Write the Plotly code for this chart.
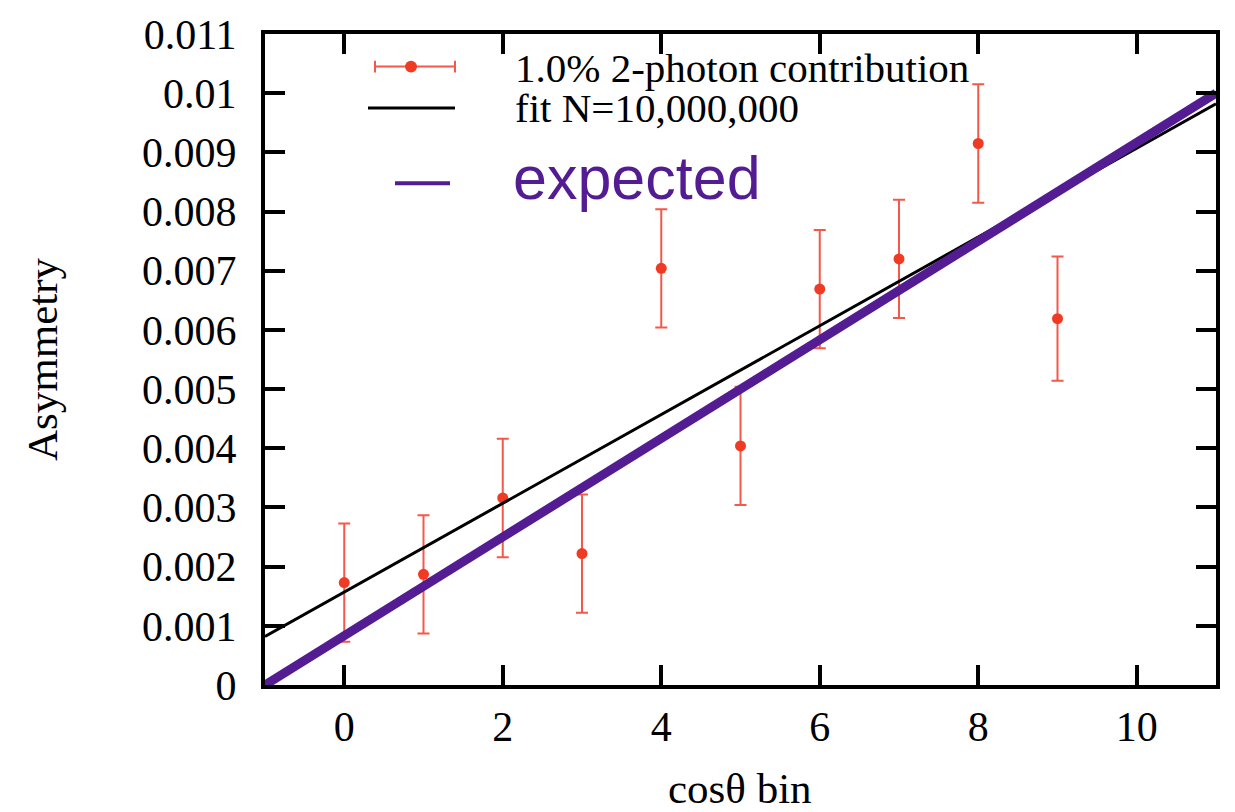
import plotly.graph_objects as go

# ---- data ----
bins = [0, 1, 2, 3, 4, 5, 6, 7, 8, 9]
asym = [0.00173, 0.00187, 0.00316, 0.00222, 0.00704, 0.00404, 0.00669, 0.00720, 0.00915, 0.00619]
asym_err = [0.0010, 0.0010, 0.0010, 0.0010, 0.0010, 0.0010, 0.0010, 0.0010, 0.0010, 0.00105]
fit_x = [-1, 11]
fit_y = [0.00082, 0.00982]
exp_x = [-1, 11]
exp_y = [0.0, 0.0100]
xtick_vals = [0, 2, 4, 6, 8, 10]
ytick_vals = [0, 0.001, 0.002, 0.003, 0.004, 0.005, 0.006, 0.007, 0.008, 0.009, 0.01, 0.011]
ytick_text = ["0", "0.001", "0.002", "0.003", "0.004", "0.005", "0.006", "0.007", "0.008", "0.009", "0.01", "0.011"]
legend_labels = ["1.0% 2-photon contribution", "fit N=10,000,000", "expected"]

RED = "#ef3b24"
RED_ERR = "#f4584a"
PURPLE = "#541c93"
SERIF = "Liberation Serif, Times New Roman, serif"

W, H = 1235, 812
L, R, T, B = 265, 19, 26, 127

def px(x):
    return (x - L) / (W - L - R)

def py(y):
    return 1 - (y - T) / (H - T - B)

fig = go.Figure()
fig.add_trace(go.Scatter(
    x=bins, y=asym, mode="markers",
    marker=dict(color=RED, size=11),
    error_y=dict(type="data", array=asym_err, color=RED_ERR, thickness=2, width=6),
    showlegend=False, cliponaxis=False))
fig.add_trace(go.Scatter(x=fit_x, y=fit_y, mode="lines",
                         line=dict(color="black", width=3), showlegend=False))
fig.add_trace(go.Scatter(x=exp_x, y=exp_y, mode="lines",
                         line=dict(color=PURPLE, width=9), showlegend=False, cliponaxis=False))

shapes = []
# legend samples (drawn in paper coordinates)
shapes.append(dict(type="line", xref="paper", yref="paper", x0=px(375), x1=px(455), y0=py(59), y1=py(59),
                   line=dict(color=RED_ERR, width=2)))
for xx in (375, 455):
    shapes.append(dict(type="line", xref="paper", yref="paper", x0=px(xx), x1=px(xx), y0=py(53), y1=py(65),
                       line=dict(color=RED_ERR, width=2)))
shapes.append(dict(type="circle", xref="paper", yref="paper", x0=px(405), x1=px(417), y0=py(53), y1=py(65),
                   line=dict(color=RED, width=0), fillcolor=RED))
shapes.append(dict(type="line", xref="paper", yref="paper", x0=px(368), x1=px(455), y0=py(101), y1=py(101),
                   line=dict(color="black", width=3)))
shapes.append(dict(type="line", xref="paper", yref="paper", x0=px(395), x1=px(450), y0=py(177), y1=py(177),
                   line=dict(color=PURPLE, width=4)))

annotations = [
    dict(text=legend_labels[0], xref="paper", yref="paper", x=px(513), y=py(60), xanchor="left", yanchor="middle",
         showarrow=False, font=dict(family=SERIF, size=41, color="black")),
    dict(text=legend_labels[1], xref="paper", yref="paper", x=px(513), y=py(101), xanchor="left", yanchor="middle",
         showarrow=False, font=dict(family=SERIF, size=41, color="black")),
    dict(text=legend_labels[2], xref="paper", yref="paper", x=px(511), y=py(172), xanchor="left", yanchor="middle",
         showarrow=False, font=dict(family="Liberation Sans, Arial, sans-serif", size=61, color=PURPLE)),
    dict(text="Asymmetry", xref="paper", yref="paper", x=px(42), y=py(355), textangle=-90,
         xanchor="center", yanchor="middle", showarrow=False, font=dict(family=SERIF, size=43, color="black")),
    dict(text="cosθ bin", xref="paper", yref="paper", x=px(740), y=py(790), xanchor="center", yanchor="middle",
         showarrow=False, font=dict(family=SERIF, size=43, color="black")),
]

axis_common = dict(showgrid=False, zeroline=False, showline=True, linecolor="black", linewidth=4,
                   mirror="ticks", ticks="inside", ticklen=20, tickwidth=4, tickcolor="black",
                   tickfont=dict(family=SERIF, size=42, color="black"))

fig.update_layout(
    width=W, height=H,
    margin=dict(l=L, r=R, t=T, b=B),
    paper_bgcolor="white", plot_bgcolor="white",
    xaxis=dict(range=[-1, 11], tickvals=xtick_vals, ticklabelstandoff=2, **axis_common),
    yaxis=dict(range=[0, 0.011], tickvals=ytick_vals, ticktext=ytick_text, ticklabelstandoff=16, **axis_common),
    shapes=shapes, annotations=annotations,
)

fig.write_html("out.html")
